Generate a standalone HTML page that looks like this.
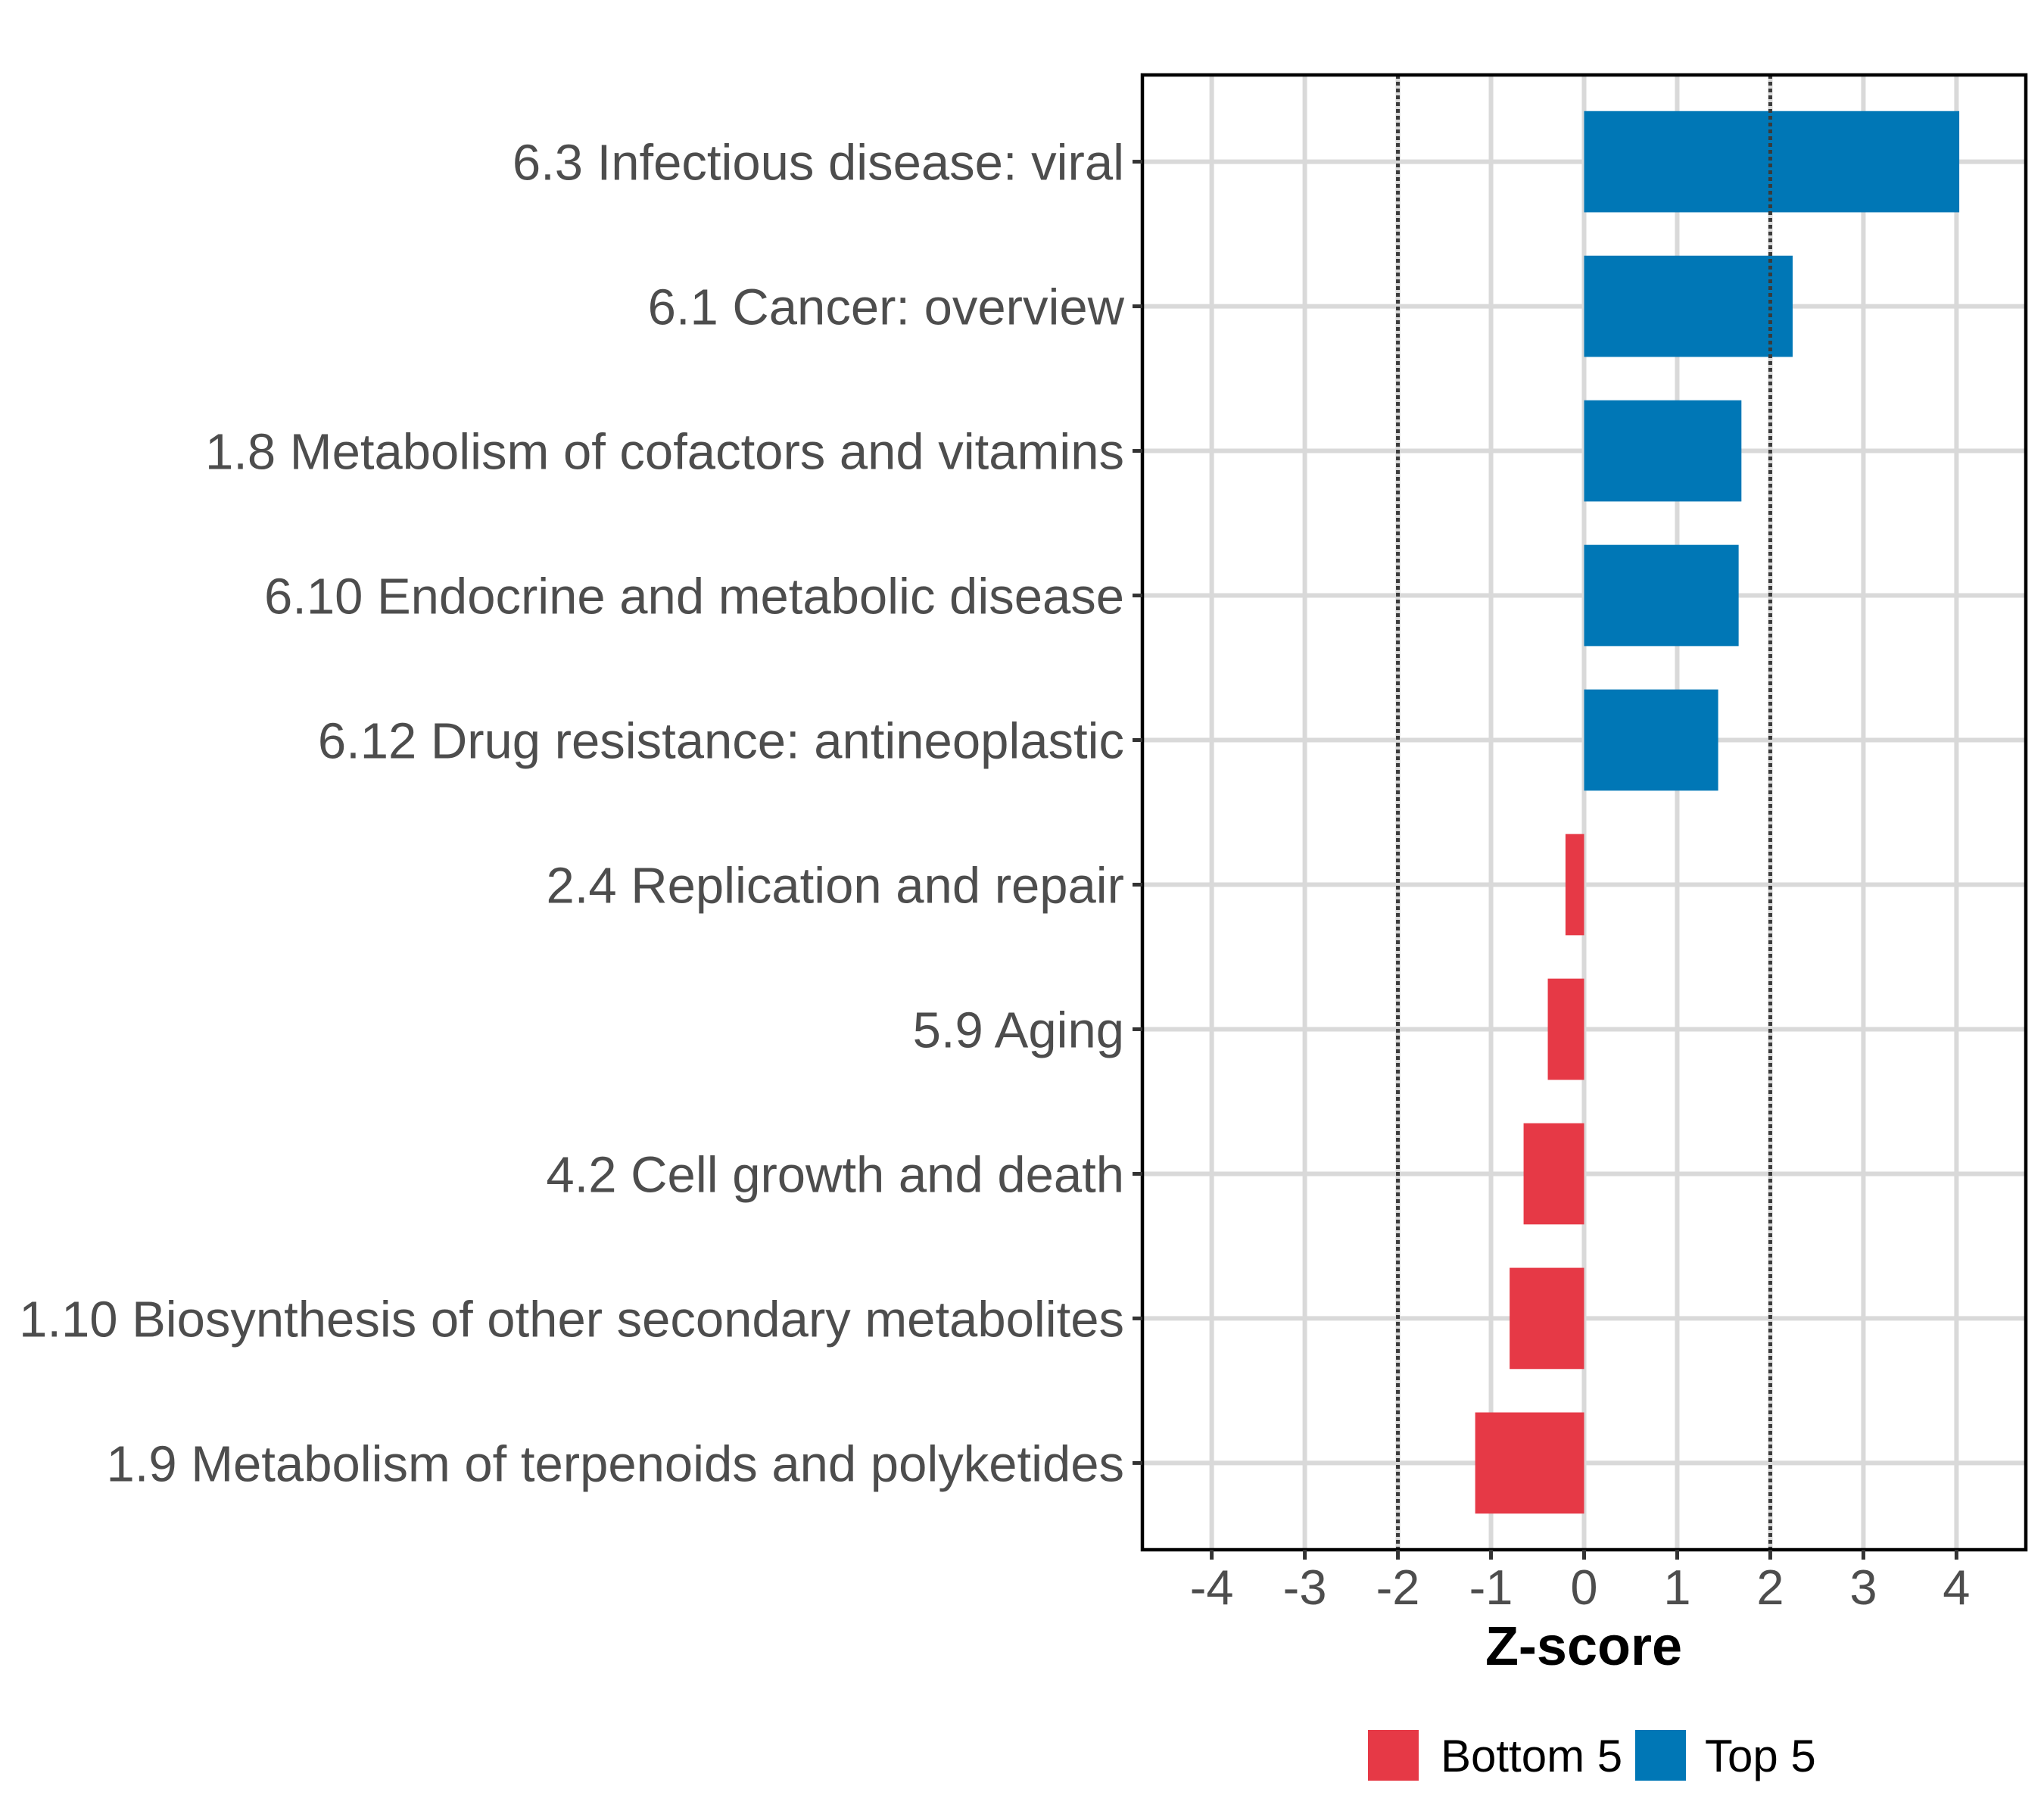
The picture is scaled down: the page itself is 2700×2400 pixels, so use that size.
<!DOCTYPE html>
<html><head><meta charset="utf-8">
<style>
html,body{margin:0;padding:0;background:#fff;}
svg{display:block;font-family:"Liberation Sans",Arial,sans-serif;}
</style></head>
<body>
<svg id="chart" width="2700" height="2400" viewBox="0 0 2700 2400" xmlns="http://www.w3.org/2000/svg">
<g id="grid"></g>
<g id="bars"></g>
<g id="refs"></g>
<rect x="1509" y="99" width="1167" height="1948" fill="none" stroke="#000" stroke-width="4.5"/>
<g id="yaxis"></g>
<g id="xaxis"></g>
<text x="2092" y="2199" text-anchor="middle" font-size="72" font-weight="bold" fill="#000">Z-score</text>
<g>
  <rect x="1807" y="2285" width="67" height="67" fill="#E63946"/>
  <text x="1903" y="2340" font-size="60" fill="#000">Bottom 5</text>
  <rect x="2160" y="2285" width="67" height="67" fill="#0077B6"/>
  <text x="2252" y="2340" font-size="60" fill="#000">Top 5</text>
</g>
</svg>
<script>
const categories = ["6.3 Infectious disease: viral","6.1 Cancer: overview","1.8 Metabolism of cofactors and vitamins","6.10 Endocrine and metabolic disease","6.12 Drug resistance: antineoplastic","2.4 Replication and repair","5.9 Aging","4.2 Cell growth and death","1.10 Biosynthesis of other secondary metabolites","1.9 Metabolism of terpenoids and polyketides"];
const zscores = [4.03, 2.24, 1.69, 1.66, 1.44, -0.20, -0.39, -0.65, -0.80, -1.17];
const groups = ["Top 5","Top 5","Top 5","Top 5","Top 5","Bottom 5","Bottom 5","Bottom 5","Bottom 5","Bottom 5"];
const xTicks = [-4,-3,-2,-1,0,1,2,3,4];
const xTickLabels = ["-4","-3","-2","-1","0","1","2","3","4"];
const refLines = [-2, 2];

const NS = "http://www.w3.org/2000/svg";
const plotL = 1509, plotR = 2676, plotT = 99, plotB = 2047;
const xMin = -4.745, xMax = 4.745;
function xScale(v){ return plotL + (v - xMin) / (xMax - xMin) * (plotR - plotL); }
const bandN = categories.length;
const band = (plotB - plotT) / (bandN - 1 + 1.2);
function yScale(i){ return plotT + (0.6 + i) * band; }
function mk(tag, attrs, parent){ const e = document.createElementNS(NS, tag); for (const k in attrs) e.setAttribute(k, attrs[k]); parent.appendChild(e); return e; }
const colors = {"Top 5":"#0077B6","Bottom 5":"#E63946"};

const grid = document.getElementById('grid');
xTicks.forEach((t) => {
  const l = mk('line', {x1:xScale(t), x2:xScale(t), y1:plotT, y2:plotB, stroke:'#d9d9d9', 'stroke-width':6}, grid);
  
  
});
categories.forEach((c, i) => {
  const l = mk('line', {x1:plotL, x2:plotR, y1:yScale(i), y2:yScale(i), stroke:'#d9d9d9', 'stroke-width':6}, grid);
  
  
});

const bars = document.getElementById('bars');
zscores.forEach((v, i) => {
  const x0 = xScale(Math.min(0, v)), x1 = xScale(Math.max(0, v));
  const h = band * 0.7;
  const r = mk('rect', {x:x0, y:yScale(i) - h/2, width:x1 - x0, height:h, fill:colors[groups[i]]}, bars);
  
  
});

const refs = document.getElementById('refs');
refLines.forEach((v) => {
  const l = mk('line', {x1:xScale(v), x2:xScale(v), y1:plotT, y2:plotB, stroke:'#3a3a3a', 'stroke-width':5, 'stroke-dasharray':'5 4'}, refs);
  
  
});

const yaxis = document.getElementById('yaxis');
categories.forEach((c, i) => {
  const y = yScale(i);
  const tk = mk('line', {x1:plotL - 13, x2:plotL, y1:y, y2:y, stroke:'#333', 'stroke-width':5}, yaxis);
  
  
  const t = mk('text', {x:plotL - 24, y:y + 24, 'text-anchor':'end', 'font-size':67, fill:'#4d4d4d'}, yaxis);
  t.textContent = c;
  
  
});

const xaxis = document.getElementById('xaxis');
xTicks.forEach((t, i) => {
  const x = xScale(t);
  const tk = mk('line', {x1:x, x2:x, y1:plotB, y2:plotB + 13, stroke:'#333', 'stroke-width':5}, xaxis);
  
  
  const lb = mk('text', {x:x, y:2119, 'text-anchor':'middle', 'font-size':65, fill:'#4d4d4d'}, xaxis);
  lb.textContent = xTickLabels[i];
  
  
});
</script>
</body></html>
